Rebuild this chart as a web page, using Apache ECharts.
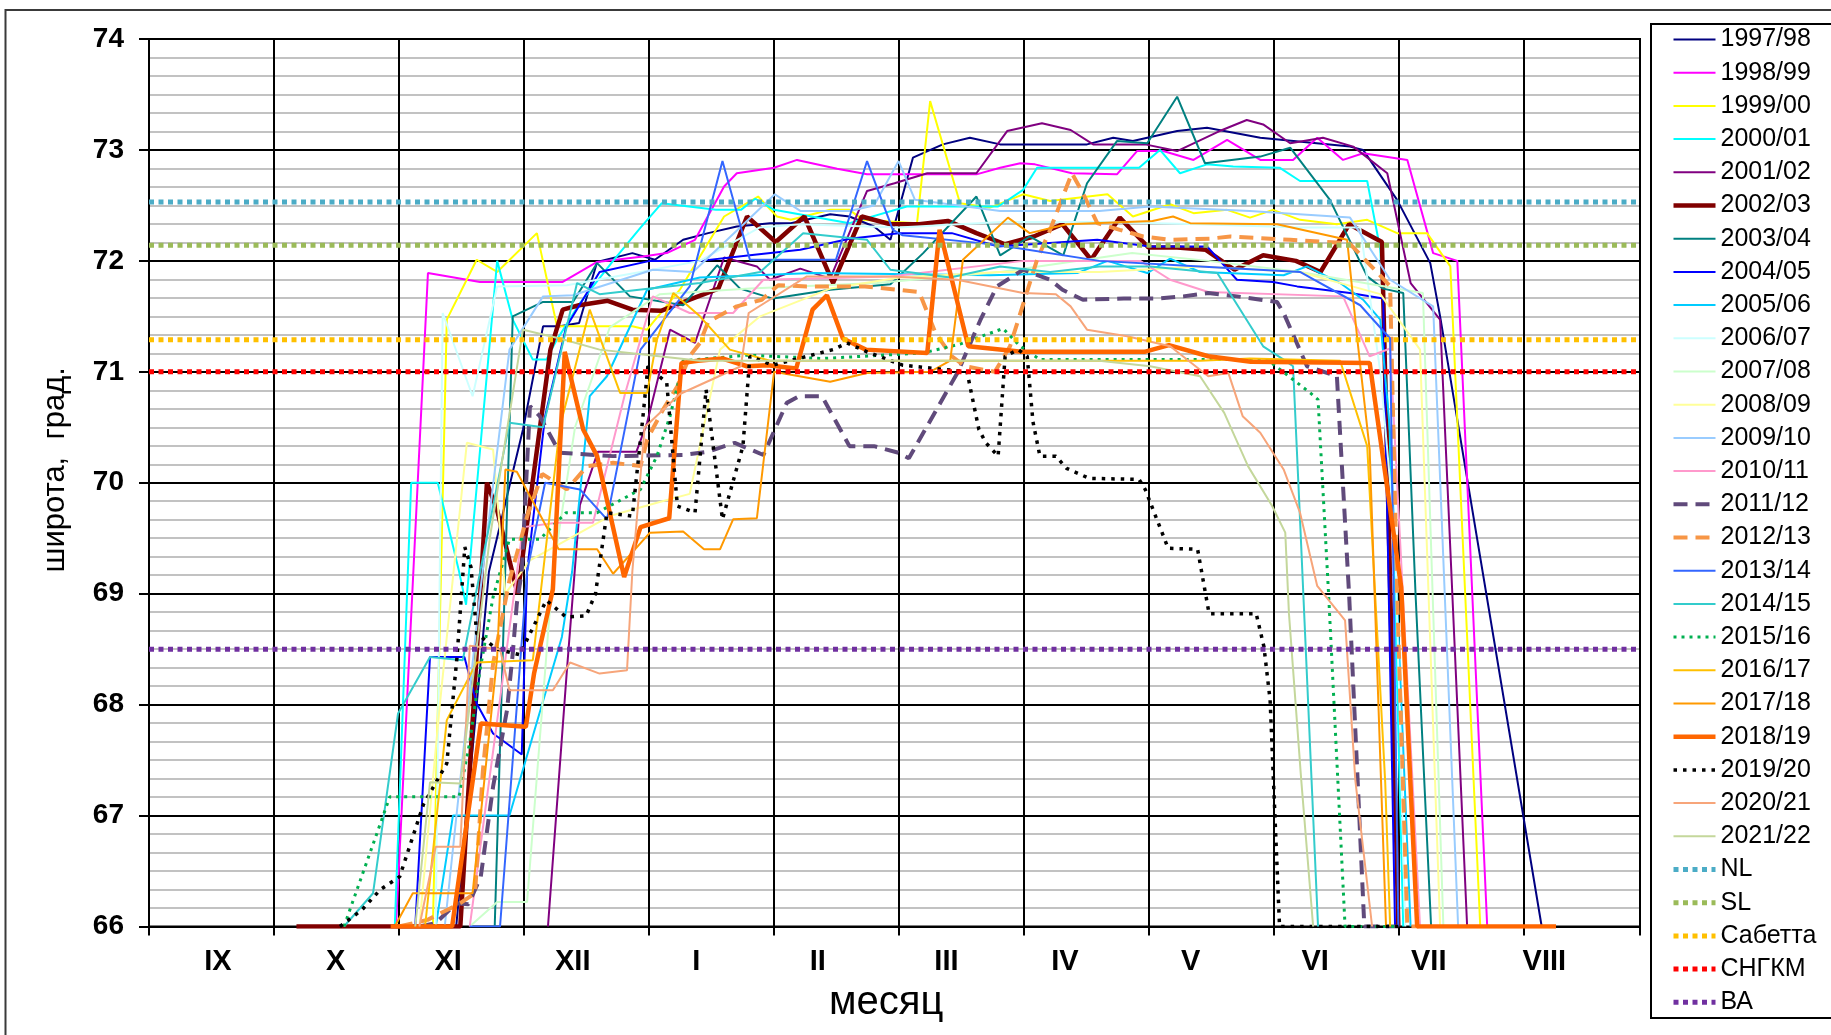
<!DOCTYPE html>
<html>
<head>
<meta charset="utf-8">
<script src="https://cdn.jsdelivr.net/npm/echarts@6/dist/echarts.min.js"></script>
<style>
  html, body { margin: 0; padding: 0; background: #fff; }
  #chart { width: 1831px; height: 1035px; }
</style>
</head>
<body>
<div id="chart"></div>
<script>
// Ice-edge latitude (deg N) by day of season; day 0 = 1 September.
const monthLabels = ['IX', 'X', 'XI', 'XII', 'I', 'II', 'III', 'IV', 'V', 'VI', 'VII', 'VIII'];
// horizontal nudge (px) of each month label within its slot
const monthLabelNudge = [0, -3, -11, -7, -4, -3, 5, 3, 8, 12, 5, 0];
const SEASON_END = 364;
const MONTH_STEP = 30.5;

const seasonNames = ['1997/98', '1998/99', '1999/00', '2000/01', '2001/02', '2002/03', '2003/04',
  '2004/05', '2005/06', '2006/07', '2007/08', '2008/09', '2009/10', '2010/11', '2011/12',
  '2012/13', '2013/14', '2014/15', '2015/16', '2016/17', '2017/18', '2018/19', '2019/20',
  '2020/21', '2021/22'];

const ice1997_98 = [[68.6,66],[75,66],[83,69.2],[91.3,70.48],[96.2,71.41],[100.3,71.41],[105,71.44],[109.4,71.99],[118,72.07],[123.5,72.01],[130.4,72.19],[136.5,72.25],[143.5,72.31],[151.6,72.34],[156.7,72.34],[166.3,72.42],[171,72.4],[177,72.31],[181,72.19],[186.5,72.93],[193.8,73.05],[200.4,73.11],[207.8,73.05],[229,73.05],[235.4,73.11],[240.2,73.08],[251,73.17],[258.3,73.2],[271.3,73.11],[293.2,73.03],[296.4,73.0],[304.7,72.55],[312.8,71.98],[315.2,71.5],[340,66]];
const ice1998_99 = [[60.3,66],[68.1,71.89],[80.8,71.81],[101,71.81],[109.4,71.99],[120.6,72.04],[126.4,72.07],[133.3,72.19],[140.4,72.67],[143.5,72.79],[152.6,72.84],[158.2,72.91],[168,72.83],[175.3,72.78],[202,72.78],[207.8,72.84],[212.7,72.88],[216.3,72.87],[225.3,72.79],[236.3,72.78],[241.2,72.99],[247.6,72.99],[255,72.91],[263.2,73.09],[271.3,72.91],[279.3,72.91],[285.2,73.11],[291.5,72.91],[296.4,72.97],[307.2,72.91],[313.5,72.07],[319.4,72.0],[326.7,66]];
const ice1999_00 = [[69.3,66],[72.7,71.47],[80,72.01],[85,71.9],[94.7,72.25],[99.6,71.41],[118,71.41],[121.6,71.38],[129.6,71.74],[140.4,72.4],[148.7,72.58],[153.3,72.4],[156.7,72.37],[166.3,72.46],[171,72.46],[174.3,72.37],[187.5,72.34],[190.7,73.44],[198,72.52],[205.3,72.48],[213.4,72.6],[220,72.54],[234,72.6],[240.2,72.4],[249.3,72.51],[255,72.43],[263.2,72.46],[268.8,72.39],[274.4,72.46],[281,72.37],[290,72.33],[297.4,72.37],[304.7,72.25],[312,72.25],[317.7,71.95],[325,66]];
const ice2000_01 = [[60,66],[64,70.0],[70.5,70.0],[75.7,69.2],[77.4,68.9],[85,72.0],[88.8,71.47],[93.7,71.11],[97,71.11],[99.6,71.29],[105.2,71.62],[113.3,72.0],[120,72.3],[125.2,72.52],[138.4,72.46],[144.5,72.46],[148,72.56],[152.6,72.46],[171,72.34],[185,72.49],[207.3,72.49],[213.4,72.64],[216.8,72.84],[241.7,72.84],[246.8,73.0],[251.7,72.79],[258.3,72.87],[264.7,72.85],[276,72.84],[281,72.72],[297.4,72.72],[300.6,72.1],[303.7,69.67],[306.2,66]];
const ice2001_02 = [[97.4,66],[102,68.3],[105.2,69.8],[109.6,70.28],[119,70.28],[121.6,70.54],[127.2,71.38],[133.3,71.26],[140.4,72.03],[148.4,71.95],[151.6,71.83],[159,71.93],[166.3,71.84],[175.3,72.63],[182,72.7],[190,72.79],[202,72.79],[209.5,73.17],[218,73.24],[225,73.18],[230.5,73.05],[243.2,73.05],[251,72.99],[262,73.18],[268,73.27],[272,73.23],[278.6,73.06],[286.6,73.11],[294,73.03],[302.3,72.79],[308,71.8],[315.2,71.47],[321.8,66]];
const ice2002_03 = [[36,66],[76,66],[82.5,70.0],[85,69.75],[90,69.0],[98,71.2],[101,71.56],[105,71.6],[112,71.64],[118,71.56],[125,71.55],[132,71.65],[139,71.75],[146,72.4],[153,72.17],[160,72.4],[167,71.8],[174,72.4],[181,72.33],[188,72.33],[195,72.36],[202,72.25],[209,72.15],[216,72.22],[223,72.33],[230,72.01],[237,72.39],[244,72.12],[251,72.12],[258,72.1],[265,71.92],[272,72.05],[280,72.0],[286,71.9],[293,72.33],[301,72.17],[305,66]];
const ice2003_04 = [[84.4,66],[88.8,71.5],[96.2,71.63],[103.5,71.63],[109.4,71.98],[117.4,71.68],[130.4,71.6],[138.7,71.96],[144.3,71.75],[152.3,71.66],[166.3,71.74],[181,71.79],[189,72.07],[202,72.58],[207.8,72.05],[215,72.22],[223.2,72.05],[229,72.7],[236.3,73.08],[243.7,73.06],[251,73.48],[257.8,72.88],[271.3,72.94],[278.6,73.02],[288.3,72.55],[297.4,71.86],[301.3,71.75],[306.2,71.71],[309.2,69.0],[313,66]];
const ice2004_05 = [[65,66],[68.6,68.43],[77,68.43],[80,68.01],[84,67.74],[91,67.55],[92.3,69.2],[96.7,70.6],[101.8,71.4],[110,71.9],[122.3,72.0],[134.5,72.0],[146.7,72.05],[159,72.1],[171,72.2],[183,72.25],[196,72.25],[207.3,72.13],[231.5,72.19],[244.4,72.13],[258.3,72.13],[265.6,71.83],[274.4,71.81],[280.3,71.77],[293.2,71.71],[301.3,71.66],[304.2,66]];
const ice2005_06 = [[70,66],[74.2,67.0],[88,67.0],[100.8,68.61],[103.3,69.2],[107.6,70.78],[111.8,70.96],[121.6,71.74],[134.5,71.85],[162,71.89],[205.3,71.87],[226.6,71.89],[234,72.0],[243.7,71.89],[249.3,72.02],[256.6,71.9],[277,71.87],[282.7,71.95],[290.8,71.8],[296.4,71.65],[300.6,71.47],[303,70.45],[308,66]];
const ice2006_07 = [[70,66],[71.7,71.53],[79,70.78],[85,71.77],[102,71.78],[120,71.9],[134.5,72.0],[149,72.3],[159,72.33],[183,72.3],[208,72.35],[232,72.35],[256.6,72.33],[281,72.3],[295.7,72.3],[300.6,71.0],[304.2,69.5],[306.7,66]];
const ice2007_08 = [[78.3,66],[85,66.22],[92.3,66.22],[98.6,69.2],[104,70.5],[112.5,71.4],[124.7,71.7],[146.7,71.75],[177.7,71.8],[207.8,71.9],[240,72.07],[258.6,72.0],[281,71.9],[311,71.71],[316,66]];
const ice2008_09 = [[66,66],[71,68.0],[77.6,70.36],[84,70.3],[87,69.0],[93,69.3],[102.8,69.5],[112.5,69.7],[124,69.82],[132,69.9],[139.4,71.2],[149.2,71.5],[166.3,71.75],[183.3,71.85],[207.8,71.9],[232,71.9],[256.6,71.95],[281,71.9],[300.6,71.7],[310.3,71.2],[315.2,66]];
const ice2009_10 = [[72.2,66],[80.8,69.0],[88,71.2],[96.2,71.68],[103.5,71.69],[123,71.92],[132.8,71.9],[144.3,72.3],[152.8,72.6],[159,72.45],[171,72.45],[177,72.5],[183,72.9],[187,72.55],[207.8,72.45],[232,72.45],[244.4,72.49],[268.8,72.45],[277,72.43],[293.2,72.39],[303,71.83],[313.5,71.59],[319.6,66]];
const ice2010_11 = [[78.3,66],[91.3,69.6],[99.6,69.64],[108.4,69.64],[116.2,70.8],[123,71.68],[132,71.53],[142.6,71.53],[150,71.83],[181,71.86],[213.4,72.0],[242,72.0],[249.3,71.83],[258.6,71.72],[291.5,71.68],[298,71.14],[303,71.21],[305.4,69.5],[310.3,66]];
const ice2011_12 = [[66,66],[70,66.03],[75,66.21],[78,66.2],[81,66.45],[84,67.26],[87.4,67.95],[88.8,68.46],[89.8,68.91],[91,69.2],[93,70.69],[95.4,70.6],[100.3,70.27],[113.3,70.24],[130.4,70.25],[136.5,70.28],[143,70.36],[150,70.25],[155.7,70.72],[158.7,70.78],[164.3,70.78],[171,70.33],[177,70.33],[183,70.27],[185.5,70.22],[197.5,71.0],[203,71.47],[207,71.77],[213.4,71.92],[220,71.83],[223,71.74],[228,71.65],[238,71.66],[246,71.66],[252.5,71.68],[258.6,71.71],[265.6,71.68],[275.4,71.63],[277,71.53],[282.7,71.05],[290,70.96],[293,68.98],[296.7,66],[305,66]];
const ice2012_13 = [[61,66],[68,66.06],[76,66.21],[79.6,66.3],[81.5,67.4],[84,68.37],[88,69.12],[92.5,69.72],[96,70.08],[102,69.94],[107,70.15],[113.3,70.18],[120,70.15],[121.6,70.39],[125.5,70.66],[129,70.87],[132,71.14],[134.5,71.26],[136.5,71.45],[143.5,71.59],[149.6,71.65],[153.6,71.78],[160.6,71.77],[174.8,71.77],[188,71.72],[192,71.35],[196,71.14],[199.2,71.05],[206.5,71.0],[210.2,71.23],[216.8,72.01],[220,72.28],[225.3,72.79],[228,72.61],[231.5,72.34],[237,72.28],[242.7,72.22],[249.3,72.19],[259,72.2],[264,72.22],[278.6,72.19],[293,72.16],[300,71.89],[303,71.77],[304.7,69.0],[307.2,66],[310,66]];
const ice2013_14 = [[78.3,66],[85.7,66],[92.3,69.2],[96.7,70.0],[105.2,69.94],[111.8,69.67],[120,71.2],[132,71.77],[140,72.9],[146.7,72.01],[167.7,72.01],[175.3,72.9],[181.6,72.28],[184,72.23],[203,72.16],[209.5,72.13],[232,72.0],[256.6,71.95],[281,71.9],[295.7,71.6],[303,71.3],[305,66]];
const ice2014_15 = [[47.6,66],[54.7,66.3],[60.8,67.92],[68.6,68.43],[76.6,68.4],[88,70.54],[96.2,70.5],[104.5,71.8],[110,71.7],[122.3,71.75],[134.5,71.8],[149.2,71.9],[159.7,72.25],[175.3,72.19],[181,71.92],[195.6,71.85],[207.8,71.95],[220,71.9],[232,71.95],[244.4,71.95],[260.8,71.89],[272,71.23],[277,71.11],[279.3,71.05],[281,69.67],[285.4,66]];
const ice2015_16 = [[47.6,66],[58.8,67.17],[75.7,67.17],[78.3,67.66],[80.8,68.31],[84,68.97],[88,69.49],[95.4,69.49],[101.8,69.73],[109.4,69.73],[120,69.94],[124,70.24],[127.2,70.6],[129.6,70.96],[130.4,71.1],[146,71.15],[164.5,71.12],[189,71.17],[198,71.25],[208.5,71.39],[212.7,71.23],[217.5,71.11],[258.6,71.11],[273,71.11],[283.5,70.81],[285.4,70.75],[288,68.98],[292,66],[305,66]];
const ice2016_17 = [[67.4,66],[72.7,67.86],[80,68.38],[93.7,68.4],[100.3,70.5],[107.6,71.56],[115,70.81],[121.6,70.81],[124,71.29],[128,71.71],[134.5,71.5],[141.8,71.2],[151.6,71.1],[183.3,71.1],[207.8,71.1],[232,71.1],[256.6,71.1],[268.8,71.12],[290.8,71.1],[297.4,70.33],[301.8,67.3],[303,66]];
const ice2017_18 = [[60,66],[64.4,66.3],[79,66.3],[85,68.43],[87,70.12],[89.8,70.1],[100,69.4],[109.4,69.4],[113.3,69.18],[122.3,69.55],[130.4,69.56],[135.5,69.4],[139.4,69.4],[142.6,69.67],[148.4,69.68],[152.6,71.0],[166.3,70.91],[175.3,70.99],[190.7,71.0],[195.6,71.1],[198.7,72.01],[209.7,72.39],[215,72.25],[224,72.33],[245,72.36],[250,72.4],[254.2,72.34],[275.4,72.33],[292.5,72.19],[295,71.29],[298,70.3],[302,66]];
const ice2018_19 = [[59,66],[74,66],[81,67.83],[92,67.8],[94,68.28],[98.6,69.04],[101.5,71.18],[106,70.48],[109.4,70.24],[116,69.15],[120,69.6],[127,69.68],[130,71.08],[134,71.1],[140,71.12],[146,71.05],[151,71.06],[158,71.03],[162,71.56],[165.5,71.69],[169.4,71.3],[175,71.2],[190,71.17],[193,72.28],[200,71.23],[213,71.18],[243,71.18],[249,71.24],[258.6,71.14],[269,71.09],[298,71.08],[305.7,69.06],[309.6,66],[343.5,66]];
const ice2019_20 = [[46.6,66],[52,66.15],[56.4,66.33],[61.2,66.45],[67,67.1],[72.7,67.47],[75.2,68.43],[77.1,69.42],[78.6,69.24],[80,68.64],[85,68.5],[90.5,68.45],[95.4,68.82],[97,68.94],[101.8,68.79],[106.7,68.8],[109,69.0],[111.8,69.73],[118,69.7],[120.6,70.6],[121.8,71.05],[126.4,70.9],[129,69.79],[133.3,69.73],[136,70.84],[140,69.67],[145,70.33],[146.7,71.14],[152.3,71.06],[167,71.2],[170.4,71.26],[175.3,71.18],[184,71.06],[199.7,71.0],[202.6,70.48],[204.3,70.36],[207.3,70.24],[209,71.14],[212.2,71.2],[214.4,71.14],[215.8,70.55],[217.5,70.24],[221.4,70.24],[224,70.13],[229.5,70.04],[241.7,70.03],[243.2,69.94],[248.8,69.41],[256,69.4],[258.8,68.82],[270.3,68.82],[272.2,68.52],[273.7,68.04],[276,66],[305,66]];
const ice2020_21 = [[66,66],[70,66.72],[76,66.72],[78.3,68.53],[85.7,68.5],[88,68.13],[98.6,68.13],[102.8,68.38],[110,68.28],[116.7,68.31],[118,69.2],[121,70.5],[129.6,70.8],[144.5,71.05],[146.4,71.53],[160.6,71.86],[181,71.86],[197.3,71.83],[213.4,71.71],[221.4,71.7],[225,71.59],[229,71.38],[238.8,71.32],[249.3,71.23],[258.6,70.96],[263.5,70.99],[267,70.6],[271.3,70.45],[277,70.12],[281,69.73],[285.2,69.07],[292,68.76],[294.5,67.32],[298.6,66]];
const ice2021_22 = [[65,66],[68.6,67.3],[76,67.29],[83.2,69.5],[91.3,71.38],[100.3,71.3],[110,71.2],[122.3,71.15],[134.5,71.1],[159,71.1],[183.3,71.1],[207.8,71.1],[232,71.1],[244.4,71.05],[256.6,70.96],[262.5,70.63],[268.3,70.15],[274.2,69.79],[277.4,69.55],[278.3,68.82],[281.3,67.32],[284.2,66]];

const seasonData = [ice1997_98, ice1998_99, ice1999_00, ice2000_01, ice2001_02, ice2002_03,
  ice2003_04, ice2004_05, ice2005_06, ice2006_07, ice2007_08, ice2008_09, ice2009_10,
  ice2010_11, ice2011_12, ice2012_13, ice2013_14, ice2014_15, ice2015_16, ice2016_17,
  ice2017_18, ice2018_19, ice2019_20, ice2020_21, ice2021_22];

// Reference latitudes
const refNames = ['NL', 'SL', 'Сабетта', 'СНГКМ', 'ВА'];
const refLat = [72.53, 72.14, 71.29, 71.0, 68.5];

// Line styles per season
const seasonColors = ['#000080', '#ff00ff', '#ffff00', '#00ffff', '#800080', '#800000', '#008080',
  '#0000ff', '#00ccff', '#ccffff', '#ccffcc', '#ffff99', '#99ccff', '#ff99cc', '#604a7b',
  '#f79646', '#3366ff', '#33cccc', '#00b050', '#ffc000', '#ff9900', '#ff6600', '#000000',
  '#f7a57a', '#c4d79b'];
const thickStyle = {
  '2002/03': { width: 4.5, type: 'solid' },
  '2011/12': { width: 4, type: [14, 8] },
  '2012/13': { width: 4, type: [14, 8] },
  '2015/16': { width: 3, type: [3, 5] },
  '2018/19': { width: 4.5, type: 'solid' },
  '2019/20': { width: 3.5, type: [3.5, 6] }
};
const refColors = ['#4bacc6', '#9bbb59', '#ffc000', '#ff0000', '#7030a0'];

const FONT = '"Liberation Sans", Arial, sans-serif';

const seasonSeries = seasonNames.map((name, i) => {
  const st = thickStyle[name] || { width: 2, type: 'solid' };
  return {
    name: name,
    type: 'line',
    xAxisIndex: 0,
    yAxisIndex: 0,
    data: seasonData[i],
    symbol: 'none',
    showSymbol: false,
    smooth: false,
    clip: true,
    itemStyle: { color: seasonColors[i] },
    lineStyle: { color: seasonColors[i], width: st.width, type: st.type }
  };
});

const refSeries = refNames.map((name, i) => ({
  name: name,
  type: 'line',
  xAxisIndex: 0,
  yAxisIndex: 0,
  data: [[0, refLat[i]], [SEASON_END, refLat[i]]],
  symbol: 'none',
  showSymbol: false,
  itemStyle: { color: refColors[i] },
  lineStyle: { color: refColors[i], width: 5, type: [5, 4.5] }
}));

// month labels, each nudged sideways inside its slot
const monthAxisData = monthLabels.map((m, i) => {
  const d = monthLabelNudge[i];
  return {
    value: m,
    textStyle: { padding: d >= 0 ? [0, 0, 0, 2 * d] : [0, -2 * d, 0, 0] }
  };
});

const chart = echarts.init(document.getElementById('chart'), null, { renderer: 'canvas' });
chart.setOption({
  animation: false,
  backgroundColor: '#ffffff',
  textStyle: { fontFamily: FONT },
  grid: [
    { left: 149, top: 39, width: 1491, height: 887.5, show: true, borderColor: '#000', borderWidth: 2, backgroundColor: 'transparent' },
    { left: 157.7, top: 39, width: 1446.9, height: 887.5, show: false }
  ],
  xAxis: [
    {
      type: 'value', gridIndex: 0, min: 0, max: SEASON_END, interval: MONTH_STEP, z: 3,
      axisLine: { show: true, lineStyle: { color: '#000', width: 2 } },
      axisTick: { show: true, length: 9, lineStyle: { color: '#000', width: 2 } },
      axisLabel: { show: false },
      splitLine: { show: true, lineStyle: { color: '#000', width: 2 } }
    },
    {
      type: 'category', gridIndex: 1, data: monthAxisData, boundaryGap: true,
      axisLine: { show: false }, axisTick: { show: false }, splitLine: { show: false },
      axisLabel: { interval: 0, margin: 21, color: '#000', fontFamily: FONT, fontSize: 29, fontWeight: 'bold' },
      name: 'месяц', nameLocation: 'middle', nameGap: 56,
      nameTextStyle: { color: '#000', fontFamily: FONT, fontSize: 40, padding: [0, 0, 0, 10] }
    }
  ],
  yAxis: [
    {
      type: 'value', gridIndex: 0, min: 66, max: 74, interval: 1,
      axisLine: { show: true, lineStyle: { color: '#000', width: 2 } },
      axisTick: { show: true, length: 10, lineStyle: { color: '#000', width: 2 } },
      axisLabel: { margin: 25, color: '#000', fontFamily: FONT, fontSize: 28, fontWeight: 'bold' },
      splitLine: { show: true, lineStyle: { color: '#000', width: 2 } },
      minorTick: { show: false, splitNumber: 6 },
      minorSplitLine: { show: true, lineStyle: { color: '#c2c2c2', width: 2 } },
      name: 'широта,  град.', nameLocation: 'middle', nameGap: 78, nameRotate: 90,
      nameTextStyle: { color: '#000', fontFamily: FONT, fontSize: 31, padding: [0, 0, 0, 26] }
    },
    { type: 'value', gridIndex: 1, show: false, min: 0, max: 1 }
  ],
  legend: {
    orient: 'vertical', left: 1671, top: 27, padding: 0,
    itemWidth: 42, itemHeight: 14, itemGap: 8.2,
    selectedMode: false,
    itemStyle: { opacity: 0 },
    lineStyle: { width: 'inherit', type: 'inherit' },
    textStyle: { color: '#000', fontFamily: FONT, fontSize: 25, lineHeight: 25 },
    data: seasonNames.concat(refNames)
  },
  graphic: [
    { type: 'rect', silent: true, z: 100, shape: { x: 5.5, y: 10, width: 2000, height: 2000 }, style: { fill: null, stroke: '#3a3a3a', lineWidth: 2 } },
    { type: 'rect', silent: true, z: 100, shape: { x: 1651, y: 24, width: 600, height: 994 }, style: { fill: null, stroke: '#000', lineWidth: 2 } }
  ],
  series: seasonSeries.concat(refSeries)
});
</script>
</body>
</html>
